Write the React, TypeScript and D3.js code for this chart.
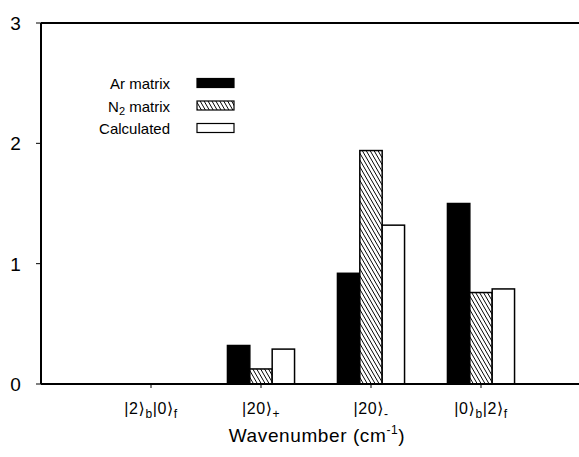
import React from "react";
import * as d3 from "d3";

const categories = ["c1", "c2", "c3", "c4"];
const categoryLabels = [
  { main: "|2⟩", sub1: "b", mid: "|0⟩", sub2: "f" },
  { main: "|20⟩", sub1: "+", mid: "", sub2: "" },
  { main: "|20⟩", sub1: "-", mid: "", sub2: "" },
  { main: "|0⟩", sub1: "b", mid: "|2⟩", sub2: "f" },
];
const seriesNames = ["Ar matrix", "N2 matrix", "Calculated"];
const arMatrix = [0, 0.32, 0.92, 1.5];
const n2Matrix = [0, 0.125, 1.94, 0.76];
const calculated = [0, 0.29, 1.32, 0.79];
const yTicks = [0, 1, 2, 3];

const W = 579;
const H = 457;
const left = 41;
const top = 23;
const bottom = 384;

export default function App() {
  const y = d3.scaleLinear().domain([0, 3]).range([bottom, top]);
  const x = d3
    .scaleBand()
    .domain(categories)
    .range([96, 536])
    .paddingInner(0.39)
    .paddingOuter(0.195);
  const inner = d3.scaleBand().domain(seriesNames).range([0, x.bandwidth()]);
  const series = [arMatrix, n2Matrix, calculated];
  const fills = ["#000", "url(#hatch)", "#fff"];
  const font = "'Liberation Sans', Arial, Helvetica, 'DejaVu Sans', sans-serif";

  return (
    <svg width={W} height={H} style={{ position: "absolute", left: 0, top: 0 }} fontFamily={font}>
      <defs>
        <pattern id="hatch" patternUnits="userSpaceOnUse" width="3.4" height="3.4" patternTransform="rotate(-30)">
          <rect width="3.4" height="3.4" fill="#fff" />
          <line x1="0" y1="0" x2="0" y2="3.4" stroke="#000" strokeWidth="1.7" />
        </pattern>
      </defs>
      <rect width={W} height={H} fill="#fff" />
      {/* bars */}
      {categories.map((c, i) =>
        series.map((s, j) =>
          s[i] > 0 ? (
            <rect
              key={c + j}
              x={(x(c) as number) + (inner(seriesNames[j]) as number)}
              y={y(s[i])}
              width={inner.bandwidth()}
              height={bottom - y(s[i])}
              fill={fills[j]}
              stroke="#000"
              strokeWidth={1.5}
            />
          ) : null
        )
      )}
      {/* axes */}
      <line x1={left} y1={top} x2={W} y2={top} stroke="#000" strokeWidth={2} />
      <line x1={left} y1={top} x2={left} y2={bottom} stroke="#000" strokeWidth={2} />
      <line x1={left} y1={bottom} x2={W} y2={bottom} stroke="#000" strokeWidth={2} />
      {yTicks.map((t) => (
        <g key={t}>
          <line x1={left - 5} x2={left} y1={y(t)} y2={y(t)} stroke="#000" strokeWidth={1} />
          <text x={15.5} y={y(t)} dy="0.36em" fontSize={19} textAnchor="middle">
            {t}
          </text>
        </g>
      ))}
      {categories.map((c, i) => {
        const cx = (x(c) as number) + x.bandwidth() / 2;
        const l = categoryLabels[i];
        return (
          <g key={c}>
            <line x1={cx} x2={cx} y1={bottom} y2={bottom + 4} stroke="#000" strokeWidth={1} />
            <text x={cx} y={bottom + 30} fontSize={16} letterSpacing={0.6} textAnchor="middle">
              {l.main}
              <tspan fontSize={12} dy={4}>{l.sub1}</tspan>
              {l.mid ? <tspan dy={-4}>{l.mid}</tspan> : null}
              {l.sub2 ? <tspan fontSize={12} dy={4}>{l.sub2}</tspan> : null}
            </text>
          </g>
        );
      })}
      <text x={317} y={442} fontSize={19} letterSpacing={0.6} textAnchor="middle">
        Wavenumber (cm<tspan fontSize={12} dy={-8}>-1</tspan>
        <tspan dy={8}>)</tspan>
      </text>
      {/* legend */}
      {seriesNames.map((n, j) => {
        const ly = 83 + j * 22.5;
        return (
          <g key={n}>
            <text x={170} y={ly + 6} fontSize={15} textAnchor="end">
              {j === 1 ? (
                <>
                  N<tspan fontSize={11} dy={3}>2</tspan>
                  <tspan dy={-3}> matrix</tspan>
                </>
              ) : (
                n
              )}
            </text>
            <rect x={197} y={ly - 4.5} width={37} height={9} fill={fills[j]} stroke="#000" strokeWidth={1.2} />
          </g>
        );
      })}
    </svg>
  );
}
